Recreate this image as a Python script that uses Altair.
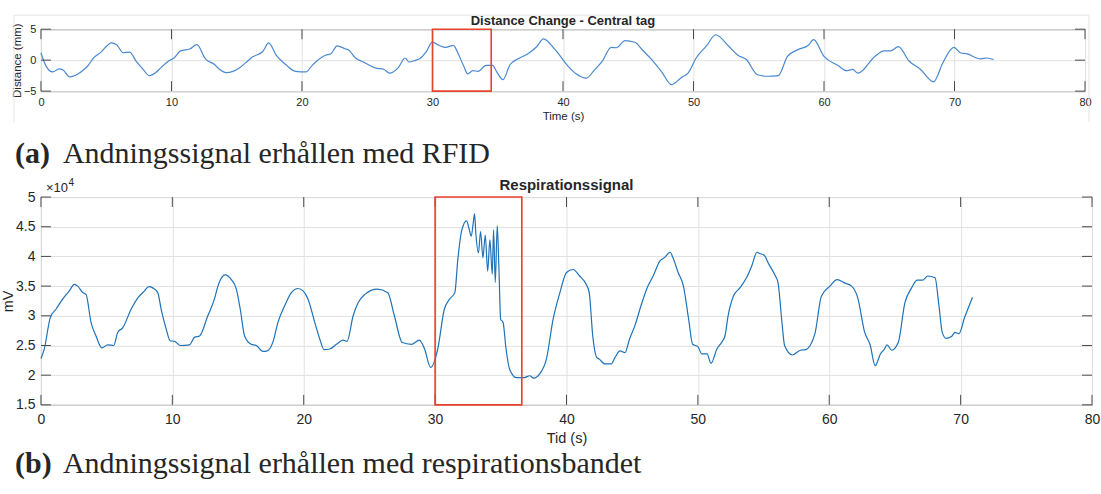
import altair as alt
import pandas as pd

# ---------------- data: panel (a) RFID distance change ----------------
t_a = [0.0, 0.4, 0.9, 1.4, 1.7, 2.2, 2.7, 3.3, 3.6, 4.0, 4.6, 5.4, 5.8, 6.3, 6.8, 7.3, 7.8, 8.3,
       8.8, 9.2, 9.8, 10.2, 10.7, 11.4, 11.95, 12.6, 13.3, 13.7, 14.2, 14.7, 15.2, 15.7, 16.2,
       17.0, 17.45, 18.0, 18.8, 19.5, 20.3, 20.8, 21.05, 21.8, 22.2, 22.7, 23.3, 23.6, 24.1,
       24.7, 25.6, 26.3, 26.7, 27.4, 27.9, 28.2, 28.6, 29.1, 29.5, 30.0, 30.5, 31.0, 31.6,
       32.0, 32.4, 32.7, 33.1, 33.5, 34.1, 34.6, 34.9, 35.4, 35.95, 36.6, 37.4, 38.0, 38.5,
       39.4, 40.4, 41.0, 41.8, 42.4, 43.0, 43.7, 44.1, 44.75, 45.5, 46.1, 46.8, 47.6, 48.3,
       49.1, 49.6, 50.2, 51.0, 51.7, 52.7, 53.4, 54.05, 54.9, 55.7, 56.5, 57.2, 58.0, 58.8,
       59.2, 60.0, 61.1, 61.7, 62.2, 62.6, 63.9, 64.6, 65.1, 65.7, 66.5, 67.4, 68.4, 69.1,
       69.95, 70.5, 70.9, 72.0, 72.5, 73.0]
d_a = [1.2, -1.0, -1.9, -1.4, -1.6, -2.7, -2.4, -1.5, -0.9, 0.3, 1.3, 2.8, 2.5, 1.2, 1.3, -0.2,
       -1.4, -2.5, -2.0, -1.2, -0.1, 0.35, 1.5, 1.8, 2.5, 0.2, -0.7, -1.5, -2.0, -1.8, -1.25,
       -0.4, 0.5, 1.4, 2.8, 0.9, -0.8, -1.8, -1.9, -0.8, -0.3, 0.8, 1.0, 2.3, 1.85, 1.6, 0.35,
       -0.3, -1.25, -1.5, -2.1, -1.15, 0.35, -0.3, -0.1, 0.35, 1.3, 2.9, 2.4, 2.05, 2.4, 0.9,
       -1.0, -2.2, -1.7, -1.8, -0.85, -0.85, -1.8, -3.15, -0.7, 0.25, 1.15, 2.2, 3.45, 1.7,
       -1.0, -2.2, -2.9, -1.6, -0.2, 2.05, 2.0, 3.15, 2.9, 1.6, 0.1, -2.0, -3.95, -2.75,
       -2.05, 0.35, 2.3, 4.1, 2.25, 0.8, 0.1, -2.35, -2.6, -2.5, 0.6, 1.7, 2.4, 3.3, 0.6,
       -0.9, -1.7, -1.5, -2.1, 0.6, 1.5, 1.5, 2.2, -0.1, -1.5, -3.5, -0.45, 2.05, 1.15, 1.05,
       0.2, 0.35, 0.1]

# ---------------- data: panel (b) respiration belt ----------------
t_b = [0.0, 0.25, 0.71, 1.14, 1.65, 2.16, 2.54, 2.8, 3.18, 3.43, 3.81, 4.19, 4.63, 5.08, 5.54,
       5.84, 6.23, 6.86, 7.37, 7.88, 8.21, 8.51, 8.89, 9.15, 9.53, 9.83, 10.17, 10.62, 11.3,
       11.7, 12.07, 12.7, 13.2, 13.47, 13.67, 14.03, 14.49, 14.87, 15.17, 15.5, 16.0, 16.39,
       16.9, 17.23, 17.66, 18.04, 18.55, 19.06, 19.57, 19.95, 20.33, 20.84, 21.22, 21.55,
       21.98, 22.49, 23.0, 23.3, 23.76, 24.14, 24.65, 25.6, 26.4, 26.9, 27.5, 28.2, 28.8,
       29.2, 29.65, 30.2, 30.7, 31.1, 31.5, 31.73, 32.04, 32.4, 32.6, 32.75, 32.9, 33.0,
       33.1, 33.3, 33.46, 33.64, 33.82, 34.0, 34.17, 34.35, 34.45, 34.58, 34.73, 34.86,
       34.99, 35.17, 35.4, 35.67, 36.18, 36.8, 37.2, 37.5, 37.96, 38.47, 38.98, 39.5, 40.0,
       40.5, 41.0, 41.5, 41.73, 42.0, 42.3, 42.5, 42.9, 43.4, 43.7, 44.07, 44.45, 44.8, 45.2,
       45.7, 46.2, 46.6, 47.1, 47.45, 47.9, 48.1, 48.5, 48.9, 49.3, 49.6, 50.0, 50.3, 50.7,
       51.0, 51.45, 51.8, 52.06, 52.3, 52.7, 53.2, 53.7, 54.1, 54.5, 54.7, 55.05, 55.4, 55.9,
       56.1, 56.4, 56.6, 57.2, 57.8, 58.2, 58.9, 59.4, 60.05, 60.6, 61.2, 61.7, 62.16, 62.7,
       63.1, 63.5, 63.9, 64.2, 64.4, 64.75, 65.25, 65.76, 66.27, 66.7, 67.1, 67.5, 68.05,
       68.35, 68.6, 68.9, 69.3, 69.57, 69.87, 70.3, 70.9]
v_b = [22800, 24400, 29700, 31100, 32800, 34200, 35300, 35000, 33900, 33600, 28900, 26600,
       24600, 25100, 25000, 27200, 28000, 31100, 33000, 34200, 34900, 34700, 33900, 31100,
       27800, 25800, 25700, 25000, 25100, 26400, 26600, 30000, 32800, 35000, 36100, 36900,
       36100, 34500, 31100, 26600, 25200, 25000, 24000, 24100, 25600, 28900, 31700, 33900,
       34600, 34200, 32800, 28900, 26100, 24300, 24400, 25200, 25900, 25700, 30000, 32200,
       33600, 34500, 33900, 30000, 25500, 25200, 25900, 24400, 21300, 24400, 31100, 32800,
       33900, 39500, 44500, 46000, 44500, 43400, 45600, 47200, 43900, 40600, 44200, 39800,
       43600, 37500, 42800, 37000, 44500, 35600, 45200, 37800, 29400, 28900, 24400, 21000,
       19600, 19600, 19900, 19500, 20200, 22700, 29400, 33900, 37300, 37800, 36700, 35300,
       33900, 26600, 23000, 22700, 21900, 21900, 23000, 24100, 23800, 26100, 28300, 31900,
       35000, 36700, 39200, 39800, 40700, 39800, 37300, 35000, 29400, 25200, 24800, 23600,
       23600, 22000, 24400, 25500, 26600, 30000, 33300, 34700, 36400, 38400, 40700, 40500,
       40200, 38700, 36700, 35600, 28900, 25000, 23400, 24200, 24300, 26900, 33300, 35000,
       36100, 35500, 35000, 33100, 27200, 25200, 21600, 23600, 24400, 25100, 24200, 25500,
       32200, 34700, 36000, 36000, 36700, 36400, 31700, 27200, 26200, 26500, 27200, 27000,
       29700, 33100]

box_a = [30.0, 34.5]      # highlighted interval, panel (a)
box_b = [30.0, 36.6]      # highlighted interval, panel (b)

x_ticks = [0, 10, 20, 30, 40, 50, 60, 70, 80]
y_ticks_a = [-5, 0, 5]
y_ticks_b = [15000, 20000, 25000, 30000, 35000, 40000, 45000, 50000]

title_a = "Distance Change - Central tag"
title_b = "Respirationssignal"
caption_a = ["(a)", "Andningssignal erhållen med RFID"]
caption_b = ["(b)", "Andningssignal erhållen med respirationsbandet"]

# ---------------- styling ----------------
SANS = "Liberation Sans"
SERIF = "Liberation Serif"
TXT = "#262626"
GRID = "#e1e1e1"
TICK = "#4a4a4a"
RED = "#e8412c"
L = 40
W_A, H_A = 1045, 62
W_B, H_B = 1052, 208

one = pd.DataFrame({"k": [0]})


def deco_rule(**enc):
    return alt.Chart(one).mark_rule(color="#e4e4e4", strokeWidth=1).encode(**enc)


def txt(s, size, weight="normal", font=SANS, align="center", **enc):
    return alt.Chart(pd.DataFrame({"s": [s]})).mark_text(
        font=font, fontSize=size, fontWeight=weight, align=align, baseline="middle", color=TXT
    ).encode(text="s:N", **enc)


def panel(t, v, xdom, ydom, W, H, yt, box, line_color, xtitle, ytitle, lab_fs, tit_fs,
          lab_pad_x, lab_pad_y, title_y, ytitle_x, ylabel_expr=None):
    xs = alt.Scale(domain=xdom, nice=False, zero=False)
    ys = alt.Scale(domain=ydom, nice=False, zero=False)
    yaxis_kw = dict(values=yt, grid=True, gridColor=GRID, domain=False, ticks=False, tickSize=0,
                    labelPadding=lab_pad_y, labelFont=SANS, labelFontSize=lab_fs, labelColor=TXT,
                    labelOverlap=False,
                    title=ytitle, titleFont=SANS, titleFontSize=tit_fs, titleFontWeight="normal",
                    titleColor=TXT, titleAngle=270, titleX=ytitle_x, titleY=H / 2,
                    titleAlign="center", titleBaseline="middle")
    if ylabel_expr:
        yaxis_kw["labelExpr"] = ylabel_expr
    yaxis = alt.Axis(**yaxis_kw)
    xaxis = alt.Axis(
        values=x_ticks, grid=True, gridColor=GRID, domain=False, ticks=False, tickSize=0,
        labelPadding=lab_pad_x, labelFont=SANS, labelFontSize=lab_fs, labelColor=TXT,
        labelOverlap=False, labelFlush=False,
        title=xtitle, titleFont=SANS, titleFontSize=tit_fs, titleFontWeight="normal",
        titleColor=TXT, titleX=W / 2, titleY=title_y, titleAlign="center",
        titleBaseline="middle")
    df = pd.DataFrame({"t": t, "v": v})
    line = alt.Chart(df).mark_line(color=line_color, strokeWidth=1.2,
                                   interpolate="monotone").encode(
        x=alt.X("t:Q", scale=xs, axis=xaxis),
        y=alt.Y("v:Q", scale=ys, axis=yaxis),
    )
    dfx = pd.DataFrame({"t": x_ticks})
    dfy = pd.DataFrame({"v": yt})
    tick_layers = [
        alt.Chart(dfx).mark_rule(color=TICK).encode(
            x=alt.X("t:Q", scale=xs, axis=xaxis), y=alt.value(H), y2=alt.value(H - 10)),
        alt.Chart(dfx).mark_rule(color=TICK).encode(
            x=alt.X("t:Q", scale=xs, axis=xaxis), y=alt.value(0), y2=alt.value(10)),
        alt.Chart(dfy).mark_rule(color=TICK).encode(
            y=alt.Y("v:Q", scale=ys, axis=yaxis), x=alt.value(0), x2=alt.value(10)),
        alt.Chart(dfy).mark_rule(color=TICK).encode(
            y=alt.Y("v:Q", scale=ys, axis=yaxis), x=alt.value(W - 10), x2=alt.value(W)),
    ]
    dfb = pd.DataFrame({"t": [box[0]], "t2": [box[1]], "v": [ydom[0]], "v2": [ydom[1]]})
    rect = alt.Chart(dfb).mark_rect(fillOpacity=0, stroke=RED, strokeWidth=1.6).encode(
        x=alt.X("t:Q", scale=xs, axis=xaxis), x2="t2:Q",
        y=alt.Y("v:Q", scale=ys, axis=yaxis), y2="v2:Q")
    return [line] + tick_layers + [rect]


# ---------------- panel (a) ----------------
layers_a = panel(t_a, d_a, [0, 80], [-5, 5], W_A, H_A, y_ticks_a, box_a, "#4a88cf",
                 "Time (s)", "Distance (mm)", 11, 11.5, 5, 5, 25, -23)
layers_a += [
    # anchor for page origin (white, invisible)
    alt.Chart(one).mark_rect(color="white").encode(
        x=alt.value(-L), x2=alt.value(-L + 1), y=alt.value(-28), y2=alt.value(-27)),
    # faint figure frame
    deco_rule(x=alt.value(-27), y=alt.value(-14), y2=alt.value(93)),
    deco_rule(x=alt.value(1049), y=alt.value(-14), y2=alt.value(93)),
    deco_rule(x=alt.value(-27), x2=alt.value(1049), y=alt.value(-14)),
    txt(title_a, 13, "bold", x=alt.value(W_A / 2), y=alt.value(-8)),
    txt(caption_a[0], 30, "bold", SERIF, "left", x=alt.value(14 - L), y=alt.value(125)),
    txt(caption_a[1], 30, "normal", SERIF, "left", x=alt.value(62 - L), y=alt.value(125)),
]
chart_a = alt.layer(*layers_a).properties(width=W_A, height=H_A)

# ---------------- panel (b) ----------------
layers_b = panel(t_b, v_b, [0, 80], [15000, 50000], W_B, H_B, y_ticks_b, box_b, "#1f72b8",
                 "Tid (s)", "mV", 14, 14.5, 8, 6, 34, -32.5,
                 ylabel_expr="datum.value / 10000")
layers_b += [
    txt(title_b, 15, "bold", x=alt.value(W_B / 2), y=alt.value(-12)),
    txt("\u00d710", 13, "normal", SANS, "left", x=alt.value(5), y=alt.value(-9)),
    txt("4", 10, "normal", SANS, "left", x=alt.value(27.5), y=alt.value(-14)),
    txt(caption_b[0], 30, "bold", SERIF, "left", x=alt.value(14 - L), y=alt.value(267)),
    txt(caption_b[1], 30, "normal", SERIF, "left", x=alt.value(62 - L), y=alt.value(267)),
]
chart_b = alt.layer(*layers_b).properties(width=W_B, height=H_B)

chart = alt.vconcat(chart_a, chart_b, spacing=106, bounds="flush").properties(
    padding=0, background="white"
).configure_view(stroke="#555555", strokeWidth=1)

chart.save("out.html", embed_options={"renderer": "svg", "actions": False})
